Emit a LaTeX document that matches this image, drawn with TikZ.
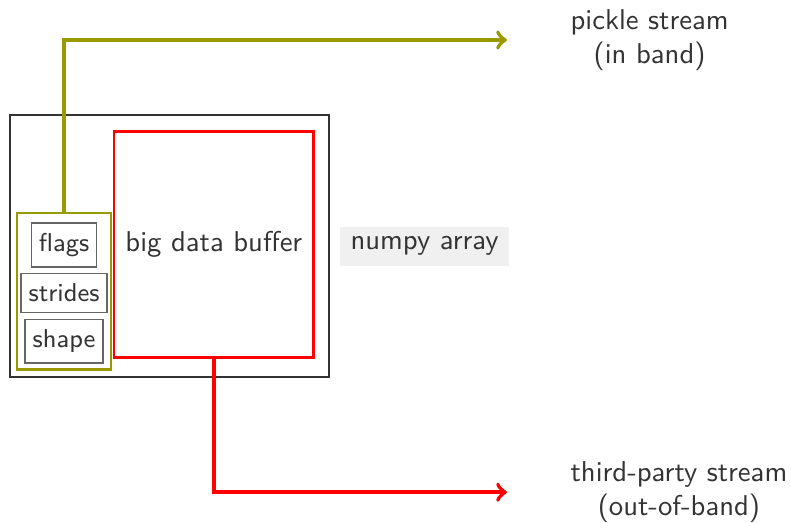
\documentclass[tikz,border=0pt]{standalone}
\usepackage{fontspec}
\usepackage{tikz}
\usetikzlibrary{positioning}

\definecolor{bandolive}{RGB}{153,153,0}
\definecolor{textgray}{RGB}{51,51,51}

\begin{document}
\begin{tikzpicture}[
            every node/.style={font=\sffamily, text=textgray},
            field/.style={rectangle, draw=black!60, line width=0.5pt, inner xsep=2.6pt, inner ysep=3.6pt, font=\sffamily\small},
            arraybox/.style={rectangle, draw=black!80, line width=0.8pt, minimum width=3.91cm, minimum height=3.21cm},
            buffer/.style={rectangle, draw=red, line width=0.8pt, minimum width=2.44cm, minimum height=2.77cm},
            meta/.style={rectangle, draw=bandolive, line width=0.8pt, minimum width=1.15cm, minimum height=1.915cm},
            stream/.style={align=center, inner sep=3.5pt},
            arrow/.style={->, line width=1.4pt}
        ]
            \useasboundingbox (0,0) rectangle (9.69,6.40);

            % The array and its data
            \node[arraybox] (arr) at (2.075, 3.385) {};
            \node[buffer] (buf) at (2.62, 3.405) {big data buffer};
            \node[fill=black!6, inner sep=3.5pt, right=0.12cm of arr] (np) {numpy array};

            % Metadata
            \node[meta] (meta) at (0.785, 2.83) {};
            \node[field] (flags) at (0.785, 3.40) {flags};
            \node[field] (strides) at (0.785, 2.81) {strides};
            \node[field] (shape) at (0.785, 2.22) {shape};

            % Stream ends
            \coordinate (inband) at (6.21, 5.91);
            \coordinate (outband) at (6.21, 0.37);

            % Arrows
            \draw[arrow, bandolive] (meta.north) |- (inband);
            \draw[arrow, red] (buf.south) |- (outband);

            % Labels
            \node[stream, anchor=west, right=0.65cm of inband] (pickle) {pickle stream\\(in band)};
            \node[stream, anchor=west, right=0.65cm of outband] (third) {third-party stream\\(out-of-band)};
        \end{tikzpicture}
\end{document}
